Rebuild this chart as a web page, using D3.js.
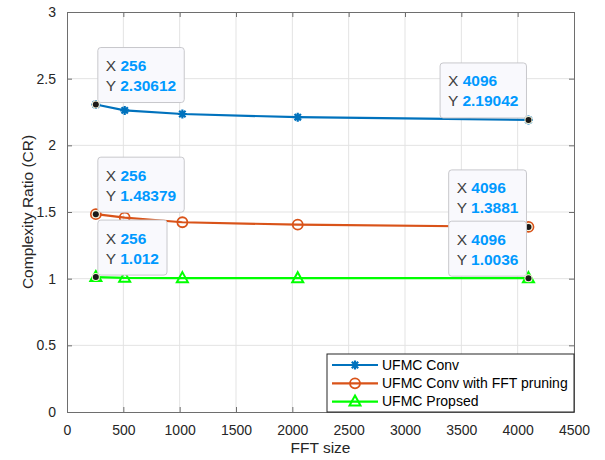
<!DOCTYPE html>
<html>
<head>
<meta charset="utf-8">
<script src="https://cdn.jsdelivr.net/npm/d3@7"></script>
<style>
  body { margin: 0; background: #fff; }
  text { font-family: "Liberation Sans", Arial, Helvetica, sans-serif; }
</style>
</head>
<body>
<div id="chart"></div>
<script>
'use strict';

// ── data ────────────────────────────────────────────────────────────────────
const fftSizes = [256, 512, 1024, 2048, 4096];
const seriesNames = ['UFMC Conv', 'UFMC Conv with FFT pruning', 'UFMC Propsed'];
const convValues = [2.30612, 2.262, 2.235, 2.211, 2.19042];
const pruningValues = [1.48379, 1.458, 1.423, 1.405, 1.3881];
const proposedValues = [1.012, 1.006, 1.004, 1.0037, 1.0036];
const xTicks = [0, 500, 1000, 1500, 2000, 2500, 3000, 3500, 4000, 4500];
const yTicks = [0, 0.5, 1, 1.5, 2, 2.5, 3];

// data tips: which series, which point, and the Y text shown
const tipSeries = [0, 0, 1, 1, 2, 2];
const tipIndex = [0, 4, 0, 4, 0, 4];
const tipLabels = ['2.30612', '2.19042', '1.48379', '1.3881', '1.012', '1.0036'];

const W = 605, H = 460;
const m = { left: 67, right: 31, top: 12, bottom: 48 };

const svg = d3.select('#chart').append('svg')
  .attr('width', W).attr('height', H);

const x = d3.scaleLinear().domain([0, 4500]).range([m.left, W - m.right]);
const y = d3.scaleLinear().domain([0, 3]).range([H - m.bottom, m.top]);

const colors = ['#0072BD', '#D95319', '#00FF00'];
const allValues = [convValues, pruningValues, proposedValues];
const series = allValues.map((vals, i) => ({
  name: seriesNames[i],
  color: colors[i],
  pts: fftSizes.map((f, j) => ({ x: f, y: vals[j] }))
}));

// grid
const grid = svg.append('g');
grid.selectAll('.gx').data(xTicks.slice(1, -1)).join('line')
  .attr('x1', d => x(d)).attr('x2', d => x(d))
  .attr('y1', y(0)).attr('y2', y(3))
  .attr('stroke', '#e3e3e3').attr('stroke-width', 1);
grid.selectAll('.gy').data(yTicks.slice(1, -1)).join('line')
  .attr('y1', d => y(d)).attr('y2', d => y(d))
  .attr('x1', x(0)).attr('x2', x(4500))
  .attr('stroke', '#e3e3e3').attr('stroke-width', 1);

// axes (ticks inward, box on)
const axisColor = '#6e6e6e';
const tickFmt = d => String(d);
const xAxis = svg.append('g').attr('transform', `translate(0,${y(0)})`)
  .call(d3.axisBottom(x).tickValues(xTicks).tickFormat(tickFmt).tickSizeInner(-5).tickSizeOuter(0).tickPadding(13));
const yAxis = svg.append('g').attr('transform', `translate(${x(0)},0)`)
  .call(d3.axisLeft(y).tickValues(yTicks).tickFormat(tickFmt).tickSizeInner(-5).tickSizeOuter(0).tickPadding(11));
const xTop = svg.append('g').attr('transform', `translate(0,${y(3)})`)
  .call(d3.axisTop(x).tickValues(xTicks).tickFormat('').tickSizeInner(-5).tickSizeOuter(0));
const yRight = svg.append('g').attr('transform', `translate(${x(4500)},0)`)
  .call(d3.axisRight(y).tickValues(yTicks).tickFormat('').tickSizeInner(-5).tickSizeOuter(0));

[xAxis, yAxis, xTop, yRight].forEach(g => {
  g.select('.domain').attr('stroke', axisColor).attr('stroke-width', 1);
  g.selectAll('.tick line').attr('stroke', axisColor);
  g.selectAll('.tick text').attr('fill', '#262626').style('font-size', '14px')
    .style('font-family', '"Liberation Sans", Arial, sans-serif');
});

svg.append('text')
  .attr('x', (x(0) + x(4500)) / 2).attr('y', 453)
  .attr('text-anchor', 'middle').attr('fill', '#262626')
  .style('font-size', '15.5px').text('FFT size');
svg.append('text')
  .attr('transform', `translate(33,${(y(0) + y(3)) / 2}) rotate(-90)`)
  .attr('text-anchor', 'middle').attr('fill', '#262626')
  .style('font-size', '15.5px').text('Complexity Ratio (CR)');

// markers
function asterisk(r) {
  const d = r * Math.SQRT1_2;
  return `M${-r},0L${r},0M0,${-r}L0,${r}M${-d},${-d}L${d},${d}M${-d},${d}L${d},${-d}`;
}
function drawMarker(g, i, color) {
  if (i === 0) {
    g.append('path').attr('d', asterisk(4.5)).attr('stroke', color).attr('stroke-width', 2.2).attr('fill', 'none');
  } else if (i === 1) {
    g.append('circle').attr('r', 5).attr('stroke', color).attr('stroke-width', 1.8).attr('fill', 'none');
  } else {
    g.append('path').attr('d', 'M0,-6L5.5,4L-5.5,4Z').attr('stroke', color).attr('stroke-width', 2).attr('fill', 'none');
  }
}

const line = d3.line().x(d => x(d.x)).y(d => y(d.y));
series.forEach((s, i) => {
  svg.append('path').datum(s.pts).attr('d', line)
    .attr('fill', 'none').attr('stroke', s.color).attr('stroke-width', 2.2);
  s.pts.forEach(p => {
    const g = svg.append('g').attr('transform', `translate(${x(p.x)},${y(p.y)})`);
    drawMarker(g, i, s.color);
  });
});

// data tips
tipSeries.forEach((si, k) => {
  const p = series[si].pts[tipIndex[k]];
  const px = x(p.x), py = y(p.y);
  const g = svg.append('g');
  const box = g.append('rect').attr('rx', 3).attr('ry', 3)
    .attr('fill', '#f9f9fd').attr('stroke', '#c8c8cc').attr('stroke-width', 1);
  const t1 = g.append('text').style('font-size', '15.5px');
  t1.append('tspan').attr('fill', '#404040').text('X ');
  t1.append('tspan').attr('fill', '#0099FF').style('font-weight', 'bold').text(String(p.x));
  const t2 = g.append('text').style('font-size', '15.5px');
  t2.append('tspan').attr('fill', '#404040').text('Y ');
  t2.append('tspan').attr('fill', '#0099FF').style('font-weight', 'bold').text(tipLabels[k]);
  const tw = Math.max(t1.node().getComputedTextLength(), t2.node().getComputedTextLength());
  const bw = tw + 16, bh = 55;
  const left = tipIndex[k] === 0;
  const bx = left ? px + 2 : px - 2 - bw;
  const by = py - 2 - bh;
  box.attr('x', bx).attr('y', by).attr('width', bw).attr('height', bh);
  t1.attr('x', bx + 8).attr('y', by + 23.5);
  t2.attr('x', bx + 8).attr('y', by + 43.5);
  svg.append('circle').attr('cx', px).attr('cy', py).attr('r', 4)
    .attr('fill', '#f6f3d8');
  svg.append('circle').attr('cx', px).attr('cy', py).attr('r', 3)
    .attr('fill', '#1a1a1a');
});

// legend
const lg = svg.append('g');
const lx0 = 327, ly0 = 354, lw = x(4500) - lx0, lh = y(0) - ly0;
lg.append('rect').attr('x', lx0).attr('y', ly0).attr('width', lw).attr('height', lh)
  .attr('fill', '#fff').attr('stroke', '#262626').attr('stroke-width', 1);
series.forEach((s, i) => {
  const cy = ly0 + 11 + i * 18.3;
  lg.append('line').attr('x1', lx0 + 5).attr('x2', lx0 + 51)
    .attr('y1', cy).attr('y2', cy).attr('stroke', s.color).attr('stroke-width', 2.2);
  const g = lg.append('g').attr('transform', `translate(${lx0 + 28},${cy})`);
  drawMarker(g, i, s.color);
  lg.append('text').attr('x', lx0 + 55).attr('y', cy + 4.8)
    .attr('fill', '#000').style('font-size', '14px').text(s.name);
});
</script>
</body>
</html>
